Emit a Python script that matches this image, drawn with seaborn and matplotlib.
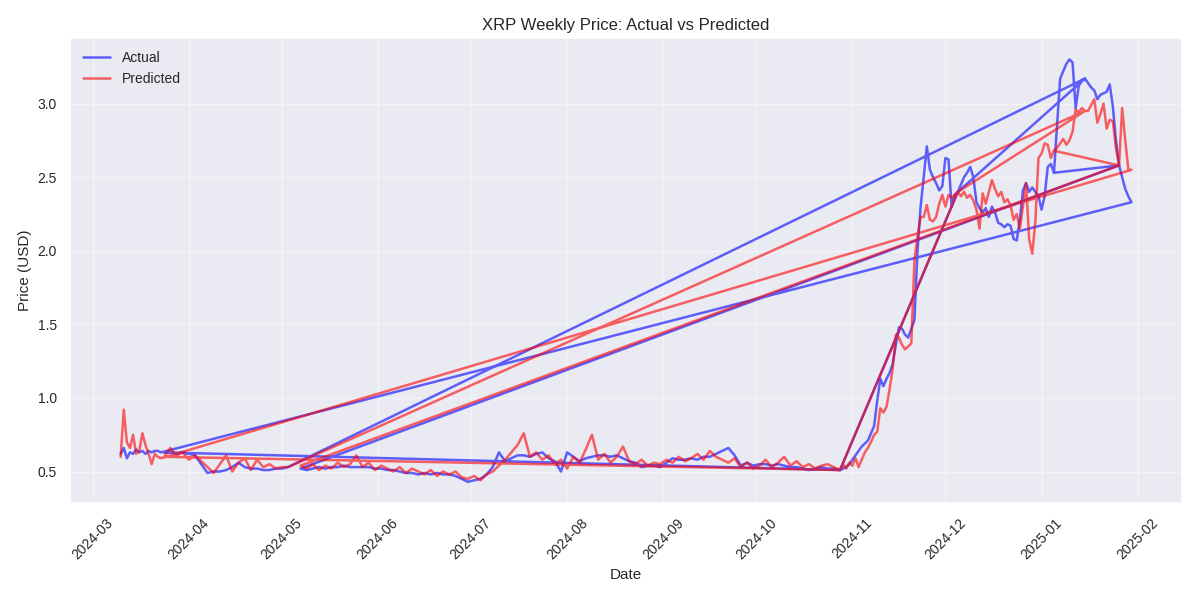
import pandas as pd
import matplotlib
matplotlib.use("Agg")
import matplotlib.pyplot as plt
import seaborn as sns

# values.
# each stretch is consecutive dates; rows get plotted in file order,
# which is what draws the long connecting lines in the original
mar_start = "2024-03-10"  # daily
mar_actual = [0.62, 0.66, 0.59, 0.63, 0.62, 0.65, 0.63, 0.64, 0.62, 0.64, 0.63, 0.64, 0.64, 0.63]
mar_pred = [0.60, 0.92, 0.70, 0.66, 0.75, 0.62, 0.64, 0.76, 0.68, 0.62, 0.55, 0.62, 0.60, 0.59]

apr_start = "2024-03-24"  # every 2 days
apr_actual = [0.63, 0.63, 0.62, 0.63, 0.62, 0.61, 0.55, 0.49, 0.50, 0.50, 0.51,
              0.53, 0.56, 0.53, 0.52, 0.52, 0.51, 0.51, 0.52, 0.52, 0.53]
apr_pred = [0.60, 0.66, 0.61, 0.63, 0.58, 0.61, 0.57, 0.53, 0.49, 0.55, 0.61,
            0.50, 0.56, 0.59, 0.51, 0.58, 0.53, 0.55, 0.52, 0.53, 0.53]

summer_start = "2024-05-07"  # every 2 days
summer_actual = [
    0.52, 0.51, 0.52, 0.53, 0.52, 0.53, 0.53, 0.54, 0.53, 0.53, 0.53, 0.53, 0.52,
    0.52, 0.51, 0.51, 0.50, 0.49, 0.49, 0.48, 0.49, 0.48, 0.49, 0.48, 0.48, 0.47, 0.45, 0.43,
    0.44, 0.45, 0.48, 0.53, 0.63, 0.57, 0.59, 0.61, 0.61, 0.60, 0.62, 0.63, 0.59, 0.57, 0.50, 0.63,
    0.60, 0.57, 0.59, 0.60, 0.61, 0.61, 0.60, 0.61, 0.59, 0.57, 0.56, 0.53, 0.54, 0.54, 0.53,
    0.56, 0.59, 0.58, 0.58, 0.59, 0.58, 0.60, 0.60, 0.62, 0.64, 0.66, 0.61, 0.54, 0.56, 0.54,
    0.55, 0.55, 0.54, 0.55, 0.54, 0.53, 0.53, 0.52, 0.51, 0.52, 0.53, 0.52, 0.52, 0.51]
summer_pred = [
    0.54, 0.52, 0.55, 0.51, 0.54, 0.52, 0.56, 0.53, 0.55, 0.61, 0.53, 0.56, 0.51,
    0.54, 0.52, 0.50, 0.53, 0.49, 0.52, 0.50, 0.48, 0.51, 0.47, 0.50, 0.48, 0.50, 0.46, 0.45,
    0.47, 0.44, 0.48, 0.50, 0.54, 0.58, 0.63, 0.68, 0.76, 0.60, 0.63, 0.58, 0.61, 0.55, 0.58, 0.52,
    0.60, 0.56, 0.65, 0.75, 0.58, 0.62, 0.56, 0.60, 0.67, 0.57, 0.55, 0.58, 0.54, 0.56, 0.55,
    0.58, 0.56, 0.60, 0.57, 0.59, 0.62, 0.58, 0.64, 0.60, 0.58, 0.56, 0.59, 0.53, 0.56, 0.52,
    0.54, 0.58, 0.53, 0.56, 0.60, 0.54, 0.57, 0.53, 0.55, 0.52, 0.54, 0.55, 0.53, 0.51]

nov_start = "2024-10-28"  # daily
nov_actual = [
    0.51, 0.52, 0.53, 0.55, 0.58, 0.61, 0.64, 0.67, 0.69, 0.71, 0.76, 0.81, 0.98,
    1.13, 1.08, 1.13, 1.17, 1.23, 1.36, 1.48, 1.47, 1.43, 1.41, 1.47, 1.53, 2.00,
    2.30, 2.50, 2.71, 2.55, 2.50, 2.46, 2.41, 2.44, 2.63, 2.62, 2.30, 2.38, 2.40]
nov_pred = [
    0.51, 0.55, 0.52, 0.56, 0.54, 0.59, 0.53, 0.58, 0.63, 0.66, 0.70, 0.75, 0.77,
    0.93, 0.90, 0.94, 1.06, 1.20, 1.43, 1.41, 1.36, 1.33, 1.35, 1.37, 1.93, 2.10,
    2.23, 2.23, 2.31, 2.21, 2.20, 2.23, 2.32, 2.38, 2.30, 2.38, 2.36, 2.38, 2.40]

dec_start = "2024-12-06"  # daily
dec_actual = [
    2.45, 2.50, 2.53, 2.57, 2.50, 2.33, 2.29, 2.26, 2.29, 2.23, 2.30, 2.26, 2.19,
    2.18, 2.16, 2.18, 2.17, 2.08, 2.07, 2.21, 2.41, 2.46, 2.40, 2.43, 2.40, 2.37,
    2.28, 2.37, 2.57, 2.59, 2.53]
dec_pred = [
    2.37, 2.40, 2.36, 2.38, 2.34, 2.28, 2.15, 2.39, 2.32, 2.40, 2.48, 2.42, 2.37,
    2.40, 2.33, 2.35, 2.31, 2.21, 2.25, 2.15, 2.30, 2.46, 2.08, 1.98, 2.20, 2.63,
    2.66, 2.73, 2.72, 2.63, 2.68]

jan_peak_start = "2025-01-06"  # daily
jan_peak_actual = [2.85, 3.17, 3.22, 3.27, 3.30, 3.28, 2.97, 3.12, 3.16, 3.17]
jan_peak_pred = [2.70, 2.73, 2.76, 2.72, 2.75, 2.81, 2.96, 2.94, 2.97, 2.95]

jan_mid_start = "2025-01-16"  # daily
jan_mid_actual = [3.14, 3.11, 3.09, 3.03, 3.06, 3.07, 3.08, 3.13, 2.98, 2.75, 2.58]
jan_mid_pred = [2.95, 2.99, 3.03, 2.87, 2.93, 3.00, 2.83, 2.89, 2.88, 2.70, 2.58]

jan_end_start = "2025-01-26"  # daily
jan_end_actual = [2.58, 2.50, 2.42, 2.37, 2.33]
jan_end_pred = [2.58, 2.97, 2.75, 2.55, 2.55]


def stretch(start, freq, actual, pred):
    dates = pd.date_range(start, periods=len(actual), freq=freq)
    return pd.DataFrame({"Date": dates, "Actual": actual, "Predicted": pred})


mar = stretch(mar_start, "D", mar_actual, mar_pred)
apr = stretch(apr_start, "2D", apr_actual, apr_pred)
summer = stretch(summer_start, "2D", summer_actual, summer_pred)
nov = stretch(nov_start, "D", nov_actual, nov_pred)
dec = stretch(dec_start, "D", dec_actual, dec_pred)
jan_peak = stretch(jan_peak_start, "D", jan_peak_actual, jan_peak_pred)
jan_mid = stretch(jan_mid_start, "D", jan_mid_actual, jan_mid_pred)
jan_end = stretch(jan_end_start, "D", jan_end_actual, jan_end_pred)

# row order of the test set as it was plotted
ordered = pd.concat([
    mar,
    jan_end.iloc[::-1],
    summer,
    nov.iloc[[-1]],
    jan_peak.iloc[[-1]],
    apr.iloc[::-1],
    nov,
    dec,
    jan_peak,
    jan_mid,
    dec.iloc[[-1]],
], ignore_index=True)
ordered["step"] = range(len(ordered))

long = ordered.melt(id_vars=["step", "Date"], value_vars=["Actual", "Predicted"],
                    var_name="Series", value_name="Price")
long = long.sort_values(["Series", "step"])

sns.set_theme(style="darkgrid")
plt.rcParams["font.family"] = ["Liberation Sans", "DejaVu Sans"]

fig, ax = plt.subplots(figsize=(12, 6), dpi=100)
sns.lineplot(data=long, x="Date", y="Price", hue="Series",
             palette={"Actual": "blue", "Predicted": "red"},
             sort=False, estimator=None, alpha=0.6, linewidth=1.8, ax=ax)

ax.set_title("XRP Weekly Price: Actual vs Predicted", fontsize=12)
ax.set_xlabel("Date", fontsize=11)
ax.set_ylabel("Price (USD)", fontsize=11)
ax.tick_params(axis="both", labelsize=10)
plt.setp(ax.get_xticklabels(), rotation=45)
ax.grid(True, alpha=0.4)

handles, labels = ax.get_legend_handles_labels()
ax.legend(handles, labels, loc="upper left", frameon=False, fontsize=10)

plt.tight_layout()
plt.savefig("out.png")
plt.close()
